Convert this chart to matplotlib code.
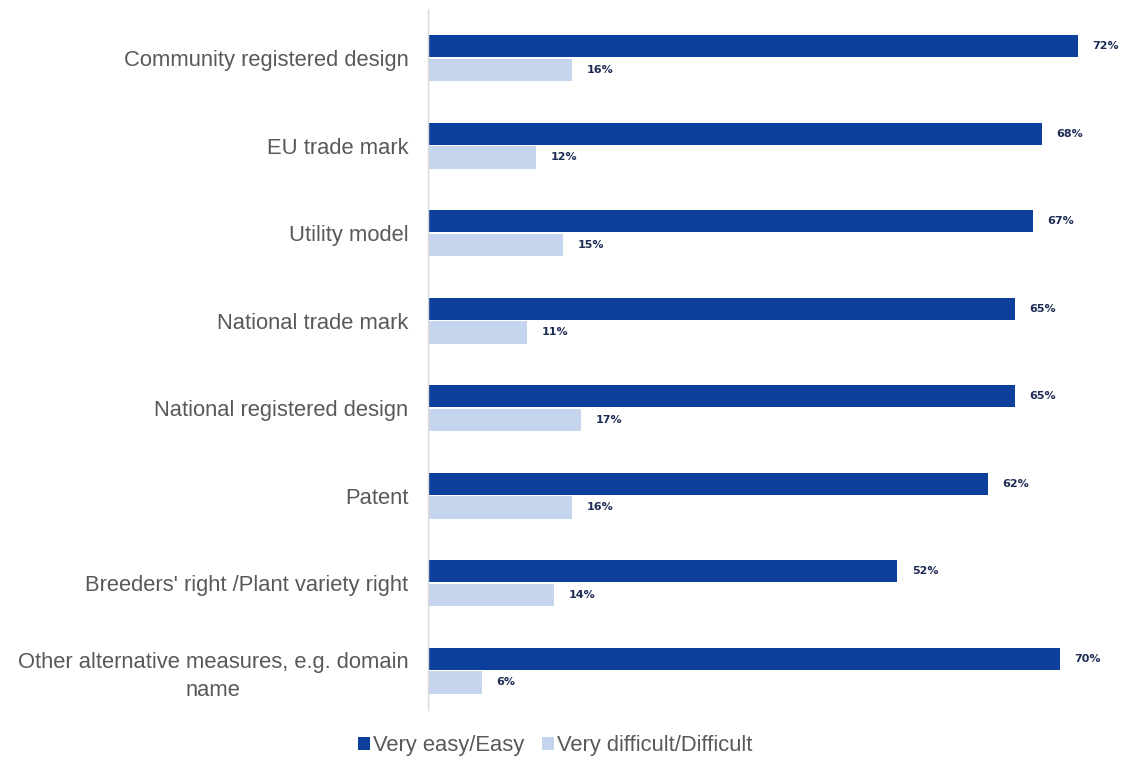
import numpy as np
import matplotlib
matplotlib.use("Agg")
import matplotlib.pyplot as plt

categories = ["Community registered design", "EU trade mark", "Utility model",
              "National trade mark", "National registered design", "Patent",
              "Breeders' right /Plant variety right",
              "Other alternative measures, e.g. domain\nname"]
easy = [72, 68, 67, 65, 65, 62, 52, 70]
difficult = [16, 12, 15, 11, 17, 16, 14, 6]
series_names = ["Very easy/Easy", "Very difficult/Difficult"]

DARK = "#0d3f9c"
LIGHT = "#c6d5ee"
TXT = "#595959"

plt.rcParams["font.family"] = ["Liberation Sans", "DejaVu Sans"]
fig = plt.figure(figsize=(11.22, 7.63), dpi=100)
ax = fig.add_axes([428 / 1122, 1 - 710 / 763, 1 - 428 / 1122, 700 / 763])

y = np.arange(len(categories))
h = 0.255
ax.barh(y - 0.135, easy, h, color=DARK, label=series_names[0])
ax.barh(y + 0.135, difficult, h, color=LIGHT, label=series_names[1])

for yi, v in zip(y, easy):
    ax.text(v + 1.6, yi - 0.135, f"{v}%", va="center", ha="left", fontsize=8,
            fontweight="bold", color="#1f2d55", family="DejaVu Sans")
for yi, v in zip(y, difficult):
    ax.text(v + 1.6, yi + 0.135, f"{v}%", va="center", ha="left", fontsize=8,
            fontweight="bold", color="#1f2d55", family="DejaVu Sans")

ax.set_xlim(0, 76.9)
ax.set_ylim(7.45, -0.55)
ax.set_yticks(y)
ax.set_yticklabels(categories, fontsize=15.8, color=TXT, linespacing=1.4)
ax.tick_params(axis="y", length=0, pad=14)
ax.set_xticks([])
for s in ["top", "right", "bottom"]:
    ax.spines[s].set_visible(False)
ax.spines["left"].set_color("#d9d9d9")
ax.spines["left"].set_linewidth(1)
for lbl in ax.get_yticklabels():
    lbl.set_multialignment("center")

fig.legend(loc="center", bbox_to_anchor=(555 / 1122, 1 - 746 / 763), ncol=2,
           frameon=False, fontsize=15.8, labelcolor=TXT, handlelength=0.55,
           handleheight=0.55, handletextpad=0.15, columnspacing=0.8)

fig.savefig("out.png", dpi=100)
